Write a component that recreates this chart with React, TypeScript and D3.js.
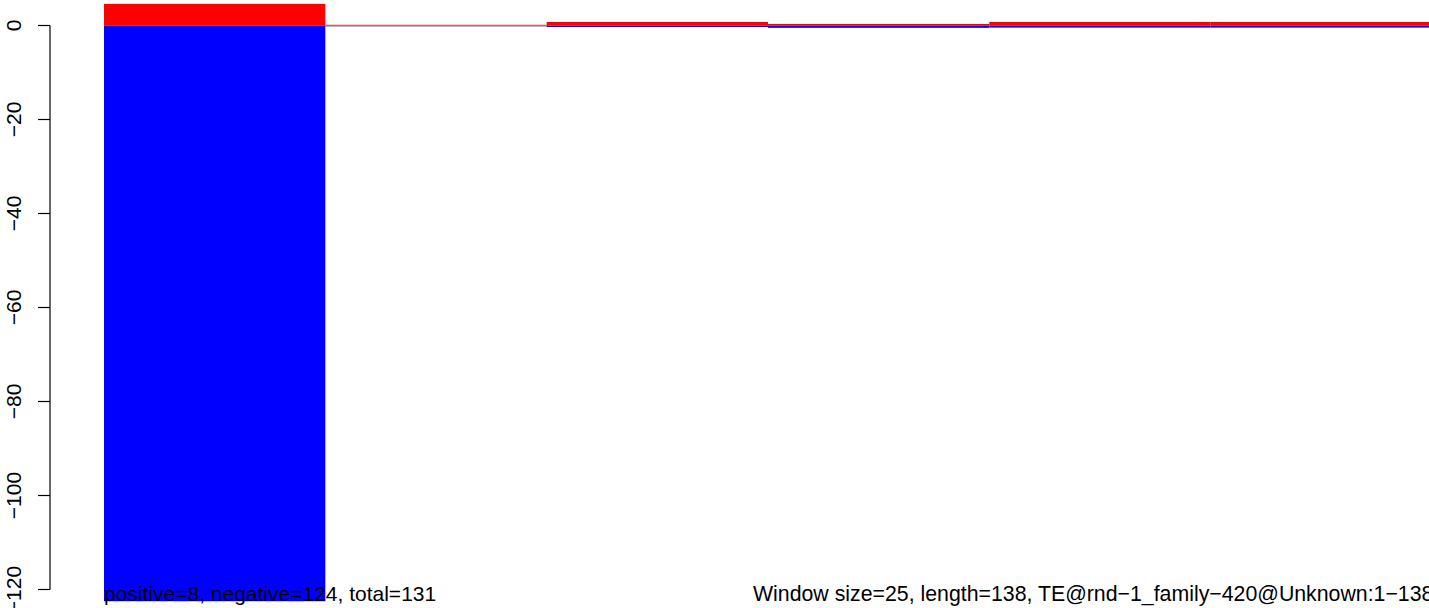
import React from "react";
import * as d3 from "d3";

// Window bins (start position, size 25)
const binStarts = [0, 25, 50, 75, 100, 125];
const binSize = 25;
const positiveValues = [4.6, 0.15, 0.75, 0.32, 0.75, 0.75];
const negativeValues = [-122.5, 0, -0.32, -0.5, -0.45, -0.45];
const yTicks = [0, -20, -40, -60, -80, -100, -120];
const leftLabel = "positive=8, negative=124, total=131";
const rightLabel = "Window size=25, length=138, TE@rnd\u22121_family\u2212420@Unknown:1\u2212138";

const W = 1429;
const H = 608;

export default function App() {
  const x = d3.scaleLinear().domain([0, 150]).range([104, 1432]);
  const y = d3.scaleLinear().domain([0, -120]).range([25.5, 589.5]);
  const font = "'Liberation Sans', Arial, Helvetica, sans-serif";
  const fmt = (v: number) => String(v).replace("-", "\u2212");
  return (
    <svg
      width={W}
      height={H}
      style={{ position: "absolute", left: 0, top: 0, background: "#fff" }}
      fontFamily={font}
    >
      <line x1={x(25)} x2={x(50)} y1={y(0) + 0.5} y2={y(0) + 0.5} stroke="#777" strokeWidth={1} />
      {binStarts.map((s, i) => (
        <g key={i}>
          <rect
            x={x(s)}
            width={x(s + binSize) - x(s)}
            y={y(positiveValues[i])}
            height={Math.max(0, y(0) - y(positiveValues[i]))}
            fill="#ff0000"
          />
          <rect
            x={x(s)}
            width={x(s + binSize) - x(s)}
            y={y(0)}
            height={Math.max(0, y(negativeValues[i]) - y(0))}
            fill="#0000ff"
          />
        </g>
      ))}
      {/* y axis */}
      <line x1={50} x2={50} y1={y(0)} y2={y(-120)} stroke="#000" strokeWidth={1.2} />
      {yTicks.map((t) => (
        <g key={t}>
          <line x1={38} x2={50} y1={y(t)} y2={y(t)} stroke="#000" strokeWidth={1.2} />
          <text
            transform={`translate(20.5,${y(t)}) rotate(-90)`}
            textAnchor="middle"
            fontSize={21}
            fill="#000"
          >
            {fmt(t)}
          </text>
        </g>
      ))}
      <text x={104} y={601} fontSize={21} fill="#000">
        {leftLabel}
      </text>
      <text x={753} y={601} fontSize={21.3} fill="#000">
        {rightLabel}
      </text>
    </svg>
  );
}
